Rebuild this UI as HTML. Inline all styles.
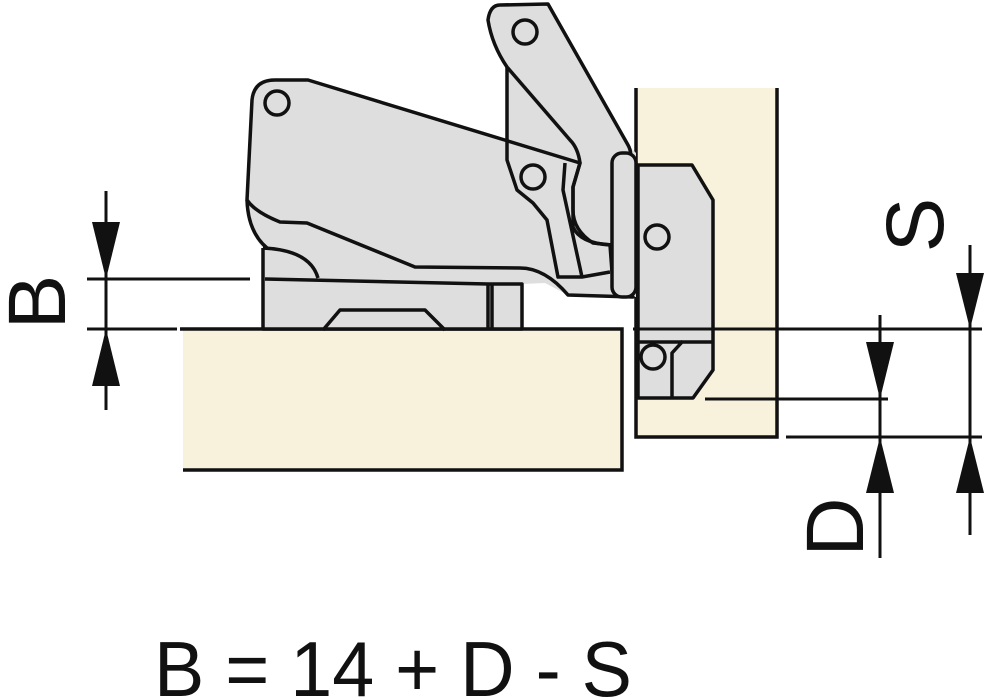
<!DOCTYPE html>
<html><head><meta charset="utf-8"><style>html,body{margin:0;padding:0;background:#fff}svg{display:block}</style></head>
<body>
<svg width="989" height="700" viewBox="0 0 989 700" xmlns="http://www.w3.org/2000/svg">
<g fill="#f8f1dc" stroke="none">
<rect x="183" y="330" width="439" height="140"/>
<rect x="637" y="88" width="140" height="349"/>
</g>
<g stroke="#111" stroke-width="3.5" fill="none">
<path d="M180 329 H622 V470 H183"/>
<path d="M636 88 V437 H777 V88"/>
</g>
<path fill="#dedede" stroke="none" d="M247 200 L252 100 Q254 80 275 80 L308 80 L507 140 L507 67 Q492 45 488 20 Q490 5 500 5 L548 4 L628 145 L636 153 L636 297 L568 295 L545 283 L522 284 L522 329 L263 329 L263 248 Q248 232 247 200 Z"/>
<g stroke="#111" stroke-width="3.5" fill="none" stroke-linejoin="round">
<!-- arm -->
<path d="M488 20 Q490 5 500 5 L548 4 L628 145 Q632 152 630 160 L612 245 L593 243 Q573 230 573 210 L573 187 L580 163 Q578 148 570 140 L507 67 Q492 45 488 20 Z"/>
<!-- lower mount -->
<path d="M263 248 L263 329 L522 329 L522 284 L488 284 L265 279"/>
<path d="M263 248 Q310 250 318 278"/>
<path d="M488 284 V329 M492 284 V329"/>
<path d="M323 330 L340 310 L425 310 L445 330"/>
<!-- main body -->
<path d="M247 200 L252 100 Q254 80 275 80 L308 80 L580 163 L573 187 L573 227 Q580 243 610 245 L612 272 L633 297 L568 295 Q545 268 520 268 L415 267 L307 223 L280 222 Q255 212 247 200 Z"/>
<path d="M247 200 Q248 232 267 248 L263 248"/>
<path d="M507 67 V160 L517 190 L533 203 L547 220 L558 277 L582 277 L610 272"/>
<path d="M565 163 L563 190 L582 277"/>
</g>
<g stroke="#111" stroke-width="3.5" fill="#dedede" stroke-linejoin="round">
<rect x="612" y="153" width="24" height="144" rx="10"/>
<path d="M638 165 L692 165 L713 200 L713 370 L693 398 L638 398 Z"/>
<path d="M638 342 H713 M672 398 V353 L683 341" fill="none"/>
<circle cx="277" cy="103" r="12"/>
<circle cx="525" cy="32" r="12"/>
<circle cx="533" cy="177" r="12"/>
<circle cx="657" cy="237" r="12"/>
<circle cx="653" cy="357" r="12"/>
</g>
<g stroke="#111" stroke-width="3" fill="none">
<path d="M87 279 H250 M87 329 H177 M106 191 V410"/>
<path d="M633 329 H982 M705 399 H888 M786 437 H982"/>
<path d="M880 315 V558 M970 245 V535"/>
</g>
<g fill="#111">
<path d="M92 222 L120 222 L106 279 Z"/>
<path d="M92 386 L120 386 L106 329 Z"/>
<path d="M866 342 L894 342 L880 399 Z"/>
<path d="M866 493 L894 493 L880 437 Z"/>
<path d="M956 273 L984 273 L970 329 Z"/>
<path d="M956 493 L984 493 L970 437 Z"/>
</g>
<g font-family="Liberation Sans, sans-serif" fill="#111">
<text transform="translate(65,302) rotate(-90)" font-size="82" text-anchor="middle">B</text>
<text transform="translate(943,225) rotate(-90)" font-size="82" text-anchor="middle">S</text>
<text transform="translate(863,527) rotate(-90)" font-size="82" text-anchor="middle">D</text>
<text x="154" y="696" font-size="78" textLength="478" lengthAdjust="spacingAndGlyphs">B = 14 + D - S</text>
</g>
</svg>
</body></html>
